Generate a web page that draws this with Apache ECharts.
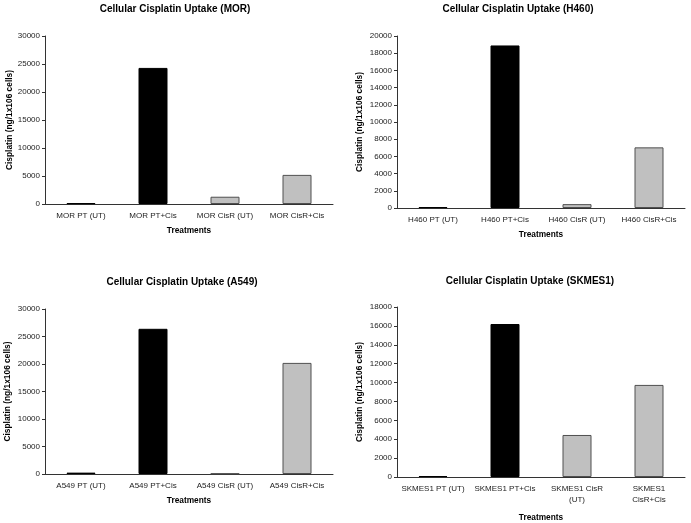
<!DOCTYPE html>
<html>
<head>
<meta charset="utf-8">
<script src="https://cdn.jsdelivr.net/npm/echarts@6/dist/echarts.min.js"></script>
<style>
  html, body { margin: 0; padding: 0; background: #fff; }
  #main { width: 691px; height: 523px; }
</style>
</head>
<body>
<div id="main"></div>
<script>
// panel data
const morCats = ["MOR PT (UT)", "MOR PT+Cis", "MOR CisR (UT)", "MOR CisR+Cis"];
const morVals = [150, 24300, 1300, 5200];
const h460Cats = ["H460 PT (UT)", "H460 PT+Cis", "H460 CisR (UT)", "H460 CisR+Cis"];
const h460Vals = [100, 18900, 450, 7050];
const a549Cats = ["A549 PT (UT)", "A549 PT+Cis", "A549 CisR (UT)", "A549 CisR+Cis"];
const a549Vals = [250, 26400, 100, 20200];
const skmesCats = ["SKMES1 PT (UT)", "SKMES1 PT+Cis", "SKMES1 CisR\n(UT)", "SKMES1\nCisR+Cis"];
const skmesVals = [100, 16200, 4450, 9750];

const titles = [
  "Cellular Cisplatin Uptake (MOR)",
  "Cellular Cisplatin Uptake (H460)",
  "Cellular Cisplatin Uptake (A549)",
  "Cellular Cisplatin Uptake (SKMES1)"
];
const yMax = [30000, 20000, 30000, 18000];
const yStep = [5000, 2000, 5000, 2000];

const FONT = "Liberation Sans, Arial, sans-serif";
// black for parental lines, grey for resistant
const fills = ["#000000", "#000000", "#c0c0c0", "#c0c0c0"];
const borders = ["#000000", "#000000", "#505050", "#505050"];

const grids = [
  { left: 45, top: 36, width: 288, height: 168 },
  { left: 397, top: 36, width: 288, height: 172 },
  { left: 45, top: 309, width: 288, height: 165 },
  { left: 397, top: 307, width: 288, height: 170 }
];
const titlePos = [[175, 9], [518, 9], [182, 282], [530, 281]];
const xNameGap = [23, 23, 23, 37];
const yNameGap = [30, 33, 33, 33];

const cats = [morCats, h460Cats, a549Cats, skmesCats];
const vals = [morVals, h460Vals, a549Vals, skmesVals];

const axisLineStyle = { color: "#333", width: 1 };

let chart = echarts.init(document.getElementById("main"));
let option = {
  backgroundColor: "#fff",
  animation: false,
  graphic: titles.map((t, i) => ({
    type: "text",
    x: titlePos[i][0],
    y: titlePos[i][1],
    style: {
      text: t,
      align: "center",
      verticalAlign: "middle",
      font: "bold 10px " + FONT,
      fill: "#000"
    }
  })),
  grid: grids,
  xAxis: cats.map((c, i) => ({
    type: "category",
    gridIndex: i,
    data: c,
    name: "Treatments",
    nameLocation: "middle",
    nameGap: xNameGap[i],
    nameTextStyle: { fontFamily: FONT, fontSize: 8.3, fontWeight: "bold", color: "#000" },
    axisLine: { lineStyle: axisLineStyle },
    axisTick: { alignWithLabel: false, length: 3, lineStyle: axisLineStyle },
    axisLabel: {
      interval: 0,
      fontFamily: FONT,
      fontSize: 8,
      color: "#222",
      margin: 6,
      lineHeight: 11
    }
  })),
  yAxis: yMax.map((m, i) => ({
    type: "value",
    gridIndex: i,
    min: 0,
    max: m,
    interval: yStep[i],
    name: "Cisplatin (ng/1x106 cells)",
    nameLocation: "middle",
    nameGap: yNameGap[i],
    nameTextStyle: { fontFamily: FONT, fontSize: 8.4, fontWeight: "bold", color: "#000" },
    axisLine: { show: true, lineStyle: axisLineStyle },
    axisTick: { show: true, length: 3, lineStyle: axisLineStyle },
    splitLine: { show: false },
    axisLabel: {
      fontFamily: FONT,
      fontSize: 8,
      color: "#222",
      margin: 5,
      formatter: (v) => String(v)
    }
  })),
  series: vals.map((v, i) => ({
    type: "bar",
    xAxisIndex: i,
    yAxisIndex: i,
    barWidth: 29,
    data: v.map((y, j) => ({
      value: y,
      itemStyle: { color: fills[j], borderColor: borders[j], borderWidth: 1 }
    }))
  }))
};
chart.setOption(option);
window.addEventListener("resize", () => chart.resize(), true);
</script>
</body>
</html>
